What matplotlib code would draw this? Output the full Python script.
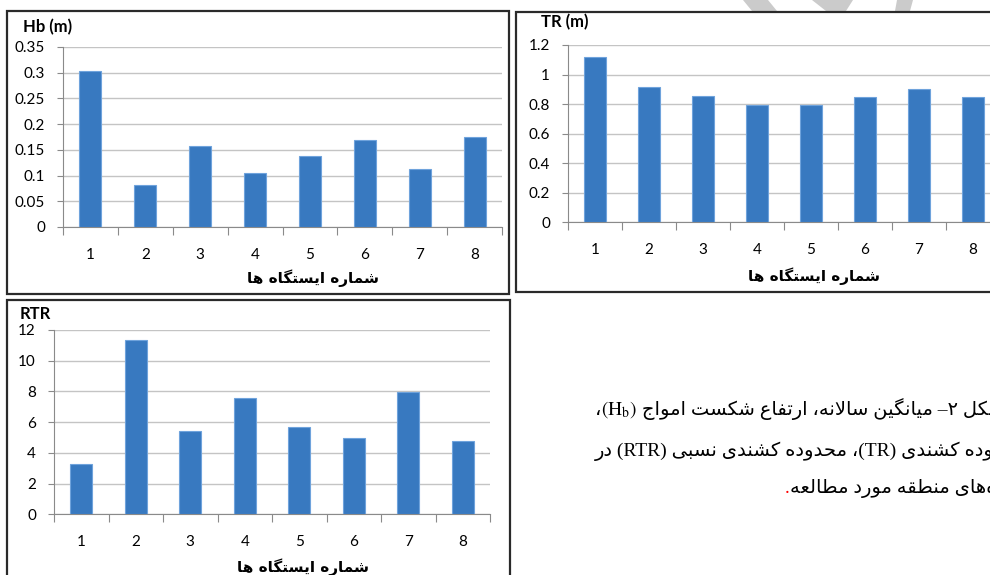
import numpy as np
import matplotlib
matplotlib.use('Agg')
import matplotlib.pyplot as plt
from matplotlib.patches import Rectangle, Polygon
from matplotlib.ticker import MultipleLocator, FuncFormatter

# data
stations = [1, 2, 3, 4, 5, 6, 7, 8]
hb = [0.303, 0.081, 0.158, 0.105, 0.139, 0.169, 0.113, 0.175]
tr = [1.12, 0.915, 0.855, 0.795, 0.795, 0.845, 0.905, 0.845]
rtr = [3.3, 11.35, 5.4, 7.6, 5.7, 4.95, 7.96, 4.8]
xlabel_fa = "شماره ایستگاه ها"
cap1_fa = "شکل ۲– میانگین سالانه، ارتفاع شکست امواج"
cap2_a = "در"
cap2_b = "محدوده کشندی نسبی"
cap2_c = "محدوده کشندی"
cap3_fa = "ایستگاه\u200cهای منطقه مورد مطالعه"

BLUE = '#3879c0'
EDGE = '#6fa3dc'
GRID = '#c4c4c4'
AXC = '#8a8a8a'

plt.rcParams['mathtext.fontset'] = 'stix'

# tiny arabic shaper: matplotlib draws glyphs one by one, no joining
FORMS = {
    'ا': (0xFE8D, 0xFE8E), 'د': (0xFEA9, 0xFEAA), 'ر': (0xFEAD, 0xFEAE), 'و': (0xFEED, 0xFEEE),
    'ب': (0xFE8F, 0xFE90, 0xFE91, 0xFE92), 'ت': (0xFE95, 0xFE96, 0xFE97, 0xFE98),
    'ج': (0xFE9D, 0xFE9E, 0xFE9F, 0xFEA0), 'ح': (0xFEA1, 0xFEA2, 0xFEA3, 0xFEA4),
    'س': (0xFEB1, 0xFEB2, 0xFEB3, 0xFEB4), 'ش': (0xFEB5, 0xFEB6, 0xFEB7, 0xFEB8),
    'ط': (0xFEC1, 0xFEC2, 0xFEC3, 0xFEC4), 'ع': (0xFEC9, 0xFECA, 0xFECB, 0xFECC),
    'ف': (0xFED1, 0xFED2, 0xFED3, 0xFED4), 'ق': (0xFED5, 0xFED6, 0xFED7, 0xFED8),
    'ل': (0xFEDD, 0xFEDE, 0xFEDF, 0xFEE0), 'م': (0xFEE1, 0xFEE2, 0xFEE3, 0xFEE4),
    'ن': (0xFEE5, 0xFEE6, 0xFEE7, 0xFEE8), 'ه': (0xFEE9, 0xFEEA, 0xFEEB, 0xFEEC),
    'ک': (0xFB8E, 0xFB8F, 0xFB90, 0xFB91), 'گ': (0xFB92, 0xFB93, 0xFB94, 0xFB95),
    'ی': (0xFBFC, 0xFBFD, 0xFBFE, 0xFBFF),
}


def dual(c):
    return c in FORMS and len(FORMS[c]) == 4


def vis(s):
    out = []
    i = 0
    while i < len(s):
        c = s[i]
        if c not in FORMS:
            if c != '\u200c':
                out.append(c)
            i += 1
            continue
        prev = s[i - 1] if i > 0 else ''
        joins_prev = dual(prev)
        if c == 'ل' and i + 1 < len(s) and s[i + 1] == 'ا':
            out.append(chr(0xFEFC if joins_prev else 0xFEFB))
            i += 2
            continue
        nxt = s[i + 1] if i + 1 < len(s) else ''
        joins_next = dual(c) and nxt in FORMS
        f = FORMS[c]
        if joins_prev and joins_next:
            out.append(chr(f[3]))
        elif joins_prev:
            out.append(chr(f[1]))
        elif joins_next:
            out.append(chr(f[2]))
        else:
            out.append(chr(f[0]))
        i += 1
    return ''.join(reversed(out))


W, H = 990, 575
fig = plt.figure(figsize=(9.9, 5.75), dpi=100)


def fx(x):
    return x / W


def fy(y):
    return 1 - y / H


# faint watermark strokes above the charts
for pts in [[(743, 0), (768, 0), (777, 11), (752, 11)],
            [(812, 0), (853, 0), (846, 11), (826, 11)],
            [(897, 0), (913, 0), (910, 11), (895, 11)]]:
    fig.add_artist(Polygon([(fx(a), fy(b)) for a, b in pts], closed=True,
                           transform=fig.transFigure, color='#cbcbcb', lw=0, zorder=0))

# chart frames
for x0, y0, x1, y1 in [(7, 11, 509, 294), (516, 12, 1010, 292), (7, 300, 510, 600)]:
    fig.add_artist(Rectangle((fx(x0), fy(y1)), (x1 - x0) / W, (y1 - y0) / H,
                             transform=fig.transFigure, facecolor='white',
                             edgecolor='#2a2a2a', lw=1.6, zorder=1))


def panel(rect, values, ymax, step, title, title_xy, xl_y):
    ax = fig.add_axes(rect)
    ax.set_zorder(2)
    ax.set_facecolor('none')
    ax.bar(stations, values, width=0.4, color=BLUE, edgecolor=EDGE, lw=0.8, zorder=3)
    ax.set_xlim(0.5, 8.5)
    ax.set_ylim(0, ymax)
    ax.yaxis.set_major_locator(MultipleLocator(step))
    ax.yaxis.set_major_formatter(FuncFormatter(lambda v, p: f"{v:g}"))
    ax.set_xticks(np.arange(0.5, 9, 1))
    ax.set_xticklabels([])
    ax.set_xticks(stations, minor=True)
    ax.set_xticklabels([str(s) for s in stations], minor=True, fontfamily='Lato', fontsize=11)
    ax.tick_params(axis='x', which='major', length=6, color=AXC, direction='out')
    ax.tick_params(axis='x', which='minor', length=0, pad=15)
    ax.tick_params(axis='y', length=4, color=AXC, pad=9, labelsize=11)
    for lab in ax.get_yticklabels():
        lab.set_fontfamily('Lato')
    ax.grid(axis='y', color=GRID, lw=1, zorder=0)
    for sp in ['top', 'right']:
        ax.spines[sp].set_visible(False)
    for sp in ['left', 'bottom']:
        ax.spines[sp].set_color(AXC)
    ax.set_xlabel(vis(xlabel_fa), family='DejaVu Sans', fontweight='bold', fontsize=11, va='center')
    ax.xaxis.set_label_coords(0.57, xl_y)
    fig.text(fx(title_xy[0]), fy(title_xy[1]), title, family='Lato', fontweight='bold',
             fontsize=12, ha='left', va='center', zorder=5)
    return ax


panel([fx(63), fy(227), 439 / W, 180 / H], hb, 0.35, 0.05, 'Hb (m)', (23, 27), -0.283)
panel([fx(568), fy(222.3), 432 / W, 177.3 / H], tr, 1.2, 0.2, 'TR (m)', (541, 22), -0.303)
panel([fx(54), fy(514.3), 436 / W, 184.3 / H], rtr, 12, 2, 'RTR', (20, 314), -0.286)

# caption, right side, cut off at the page edge
cap_font = ['Liberation Serif', 'DejaVu Sans']
fig.canvas.draw()
r = fig.canvas.get_renderer()


def chain(x, y, pieces):
    for s, kw in pieces:
        t = fig.text(fx(x), fy(y), s, ha='left', va='baseline', fontsize=14, **kw)
        x = t.get_window_extent(r).x1
    return x


chain(595, 415, [('،', dict(family='DejaVu Sans')),
                 (r'$(\mathrm{H}_{\mathrm{b}})$', dict()),
                 (' ' + vis(cap1_fa), dict(family=cap_font))])
chain(595, 456, [(vis(cap2_a) + ' (RTR) ' + vis(cap2_b) + ' ،(TR) ' + vis(cap2_c),
                  dict(family=cap_font))])
chain(785, 493, [('.', dict(family=cap_font, color='red')),
                 (vis(cap3_fa), dict(family=cap_font))])

fig.savefig('out.png', dpi=100)
